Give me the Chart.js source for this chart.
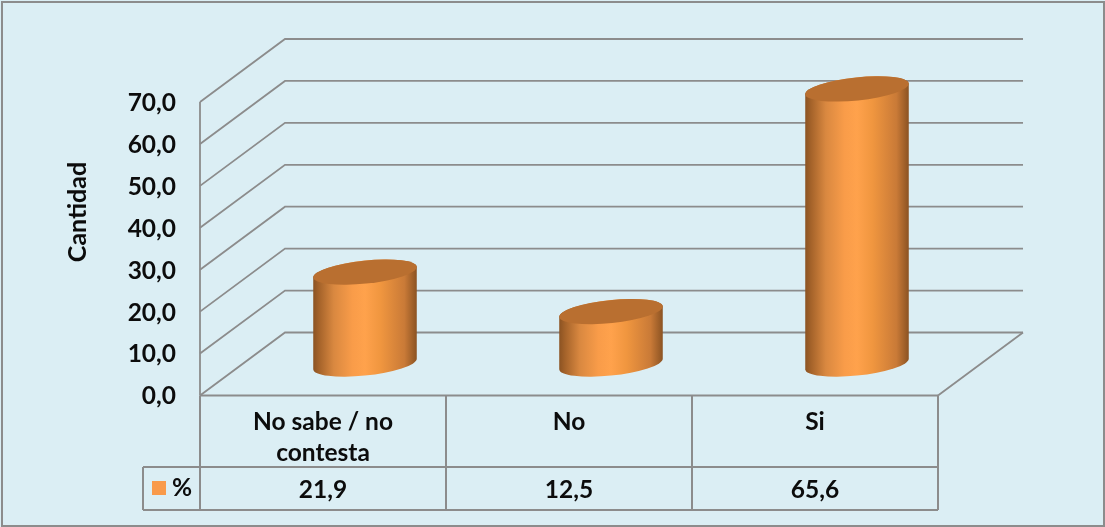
<!DOCTYPE html>
<html>
<head>
<meta charset="utf-8">
<style>
  html, body { margin: 0; padding: 0; background: #fff; }
  canvas { display: block; }
</style>
<script src="https://cdn.jsdelivr.net/npm/chart.js@4"></script>
</head>
<body>
<canvas id="chart" width="1105" height="527"></canvas>
<script>
const categories = [["No sabe / no", "contesta"], "No", "Si"];
const valores = [21.9, 12.5, 65.6];
const valorLabels = ["21,9", "12,5", "65,6"];
const serieName = "%";
const axisTitle = "Cantidad";

const FONT = "Lato, sans-serif";
const TEXT = "#0c0c0c";
const LINE = "#8c8c8c";
const DEPTH_X = 85;
const DEPTH_Y = 63;

// Paredes 3D y tabla de datos
function drawWalls(chart) {
  const { ctx, chartArea: a } = chart;
  const y = chart.scales.y;
  ctx.save();
  ctx.strokeStyle = LINE;
  ctx.lineWidth = 1.8;
  y.ticks.forEach((t) => {
    const py = y.getPixelForValue(t.value);
    ctx.beginPath();
    ctx.moveTo(a.left, py);
    ctx.lineTo(a.left + DEPTH_X, py - DEPTH_Y);
    ctx.lineTo(a.right + DEPTH_X, py - DEPTH_Y);
    ctx.stroke();
  });
  ctx.beginPath();
  ctx.moveTo(a.left, a.top);
  ctx.lineTo(a.left, a.bottom);
  ctx.moveTo(a.right, a.bottom);
  ctx.lineTo(a.right + DEPTH_X, a.bottom - DEPTH_Y);
  ctx.stroke();
  ctx.restore();
}

function drawTable(chart) {
  const { ctx, chartArea: a } = chart;
  const x = chart.scales.x;
  const rowTop = 467;
  const rowBottom = 510;
  const keyLeft = 143;
  const step = (a.right - a.left) / categories.length;
  ctx.save();
  ctx.strokeStyle = LINE;
  ctx.lineWidth = 2;
  ctx.beginPath();
  ctx.moveTo(a.left, a.bottom);
  ctx.lineTo(a.right, a.bottom);
  ctx.moveTo(keyLeft, rowTop);
  ctx.lineTo(a.right, rowTop);
  ctx.moveTo(keyLeft, rowBottom);
  ctx.lineTo(a.right, rowBottom);
  ctx.moveTo(keyLeft, rowTop);
  ctx.lineTo(keyLeft, rowBottom);
  for (let i = 0; i <= categories.length; i++) {
    ctx.moveTo(a.left + i * step, a.bottom);
    ctx.lineTo(a.left + i * step, rowBottom);
  }
  ctx.stroke();

  ctx.fillStyle = TEXT;
  ctx.font = "bold 24.5px " + FONT;
  ctx.textAlign = "center";
  ctx.textBaseline = "middle";
  valorLabels.forEach((v, i) => ctx.fillText(v, x.getPixelForValue(i), 490));
  ctx.fillText(serieName, 182, 488);

  ctx.fillStyle = "#f99a4a";
  ctx.fillRect(152, 481, 14, 14);
  ctx.restore();

  // titulo del eje, va mas arriba que el centro del eje
  ctx.save();
  ctx.translate(78, 212);
  ctx.rotate(-Math.PI / 2);
  ctx.fillStyle = TEXT;
  ctx.font = "bold 25px " + FONT;
  ctx.textAlign = "center";
  ctx.textBaseline = "middle";
  ctx.fillText(axisTitle, 0, 0);
  ctx.restore();
}

// Cilindro a partir de la barra que calcula Chart.js
function drawCylinder(ctx, bar) {
  const a = bar.width / 2;
  const b = 11.5;
  const rot = -6 * Math.PI / 180;
  const cx = bar.x + 42;
  const baseY = bar.base - DEPTH_Y / 2;
  const topY = bar.y - DEPTH_Y / 2;
  const t0 = Math.atan2(-b * Math.sin(rot), a * Math.cos(rot));

  const grad = ctx.createLinearGradient(cx - a, 0, cx + a, 0);
  grad.addColorStop(0, "#8a5222");
  grad.addColorStop(0.06, "#a5632a");
  grad.addColorStop(0.2, "#d98840");
  grad.addColorStop(0.38, "#f99c49");
  grad.addColorStop(0.5, "#ffa24c");
  grad.addColorStop(0.65, "#f0963f");
  grad.addColorStop(0.88, "#c97a37");
  grad.addColorStop(1, "#8a5222");

  ctx.beginPath();
  ctx.ellipse(cx, baseY, a, b, rot, t0, t0 + Math.PI, false);
  ctx.ellipse(cx, topY, a, b, rot, t0 + Math.PI, t0 + 2 * Math.PI, false);
  ctx.closePath();
  ctx.fillStyle = grad;
  ctx.fill();

  ctx.beginPath();
  ctx.ellipse(cx, topY, a, b, rot, 0, 2 * Math.PI);
  ctx.fillStyle = "#b96f30";
  ctx.fill();
}

const chart3d = {
  id: "chart3d",
  beforeDraw(chart) {
    const { ctx, width, height } = chart;
    ctx.save();
    ctx.fillStyle = "#dbeef4";
    ctx.fillRect(0, 0, width, height);
    ctx.strokeStyle = LINE;
    ctx.lineWidth = 2;
    ctx.strokeRect(2, 2, width - 3, height - 3);
    ctx.restore();
  },
  beforeDatasetsDraw(chart) {
    drawWalls(chart);
    drawTable(chart);
  },
  afterDatasetsDraw(chart) {
    chart.getDatasetMeta(0).data.forEach((bar) => drawCylinder(chart.ctx, bar));
  }
};

new Chart(document.getElementById("chart"), {
  type: "bar",
  data: {
    labels: categories,
    datasets: [{
      label: serieName,
      data: valores,
      backgroundColor: "transparent",
      barPercentage: 0.423,
      categoryPercentage: 1
    }]
  },
  options: {
    responsive: false,
    animation: false,
    layout: { padding: { top: 102, right: 167, bottom: 0, left: 0 } },
    plugins: {
      legend: { display: false },
      tooltip: { enabled: false }
    },
    scales: {
      x: {
        afterFit: (s) => { s.height = 131.5; },
        grid: { display: false },
        border: { display: false },
        ticks: {
          color: TEXT,
          font: { family: FONT, size: 24.5, weight: "bold", lineHeight: 1.27 },
          maxRotation: 0,
          autoSkip: false,
          padding: 3
        }
      },
      y: {
        min: 0,
        max: 70,
        afterFit: (s) => { s.width = 200; },
        grid: { display: false },
        border: { display: false },
        ticks: {
          stepSize: 10,
          color: TEXT,
          font: { family: FONT, size: 24.5, weight: "bold" },
          padding: 16,
          labelOffset: 1,
          callback: (v) => v.toFixed(1).replace(".", ",")
        }
      }
    }
  },
  plugins: [chart3d]
});
</script>
</body>
</html>
